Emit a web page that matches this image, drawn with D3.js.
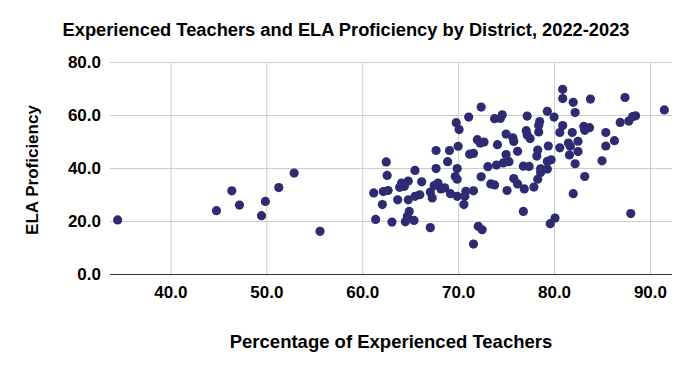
<!DOCTYPE html>
<html>
<head>
<meta charset="utf-8">
<script src="https://cdn.jsdelivr.net/npm/d3@7"></script>
<style>
  html, body { margin: 0; padding: 0; background: #fff; }
  svg { display: block; font-family: "Liberation Sans", Arial, sans-serif; }
</style>
</head>
<body>
<svg id="chart" width="690" height="371"></svg>
<script>
// Percentage of experienced teachers (x) per district
const experiencedPct = [
  34.5, 44.8, 46.4, 47.2, 49.5, 49.9, 51.3, 52.9, 55.6,
  61.2, 61.4, 62.1, 62.2, 62.5, 62.6, 62.7, 63.1, 63.7, 63.9, 64.4, 64.1, 64.8,
  64.5, 64.7, 64.9, 64.8, 65.4, 65.5, 66.0, 65.5, 66.2, 67.1, 67.1, 67.3, 67.5,
  67.9, 68.2, 68.6, 67.7, 67.7, 68.9, 69.1, 69.2, 69.9, 69.7, 69.9, 69.9, 70.0,
  69.8, 70.1, 70.6, 70.8, 70.7, 71.1, 71.2, 71.6, 71.6, 71.6, 72.1, 72.5, 72.0,
  72.3, 72.7, 72.4, 72.4, 73.1, 73.4, 73.8, 73.8, 74.4, 74.6, 74.1, 74.0, 74.7,
  75.3, 75.0, 75.7, 75.8, 75.0, 75.1, 75.8, 76.2, 76.2, 76.8, 76.9, 76.8, 77.4,
  77.2, 77.1, 77.2, 77.5, 77.9, 78.3, 78.6, 78.6, 78.3, 78.2, 78.5, 78.4, 78.4,
  79.3, 80.0, 79.4, 79.3, 79.7, 79.3, 79.6, 80.1, 80.9, 80.9, 82.0, 82.2, 83.8,
  87.4, 91.5, 88.5, 88.2, 87.8, 86.9, 80.6, 80.9, 81.9, 83.1, 83.7, 83.2, 85.4,
  86.3, 85.4, 81.5, 81.7, 80.6, 81.6, 82.5, 82.5, 82.2, 85.0, 83.2, 82.0, 88.0
];
// ELA proficiency (y) per district, same order
const elaProficiency = [
  20.4, 23.9, 31.4, 26.0, 22.0, 27.4, 32.6, 38.1, 16.1,
  30.6, 20.6, 26.2, 31.1, 42.3, 37.2, 31.5, 19.6, 28.0, 32.7, 33.1, 34.3, 35.1,
  19.7, 21.7, 23.6, 28.0, 20.2, 29.3, 29.9, 39.1, 34.8, 17.5, 30.9, 28.7, 33.4,
  34.3, 32.1, 32.5, 46.6, 39.8, 42.4, 46.6, 30.3, 29.3, 36.8, 35.8, 39.8, 48.2,
  57.1, 54.5, 26.2, 31.2, 29.3, 59.2, 45.2, 45.5, 31.4, 11.3, 18.0, 16.7, 50.7,
  49.4, 49.8, 63.0, 36.7, 40.5, 34.0, 33.6, 58.6, 58.7, 60.1, 48.8, 41.1, 41.9,
  42.4, 52.8, 51.4, 50.0, 45.1, 31.5, 36.0, 34.0, 46.3, 23.6, 32.1, 40.7, 40.6,
  59.6, 54.1, 52.5, 51.1, 32.8, 35.8, 38.3, 39.7, 46.8, 44.5, 57.5, 56.0, 53.6,
  61.4, 59.2, 48.3, 42.5, 43.1, 39.6, 19.0, 21.1, 69.7, 66.2, 64.8, 60.9, 66.0,
  66.6, 61.9, 59.7, 59.4, 57.7, 57.2, 53.4, 56.0, 53.4, 55.7, 55.2, 54.2, 53.4,
  50.3, 48.3, 49.4, 48.2, 47.6, 44.9, 50.1, 46.2, 41.6, 42.7, 36.8, 30.3, 22.8
];
const xTicks = [40, 50, 60, 70, 80, 90];
const yTicks = [0, 20, 40, 60, 80];

const titleText = "Experienced Teachers and ELA Proficiency by District, 2022-2023";
const xTitle = "Percentage of Experienced Teachers";
const yTitle = "ELA Proficiency";

const points = experiencedPct.map((x, i) => ({ x, y: elaProficiency[i] }));

const svg = d3.select("#chart");
const plot = { left: 110, right: 672, top: 62, bottom: 274 };

const x = d3.scaleLinear().domain([33.7, 92.3]).range([plot.left, plot.right]);
const y = d3.scaleLinear().domain([0, 80]).range([plot.bottom, plot.top]);

// vertical gridlines + x tick labels
const gx = svg.append("g")
  .attr("transform", `translate(0,${plot.bottom})`)
  .call(d3.axisBottom(x).tickValues(xTicks).tickSize(-(plot.bottom - plot.top)).tickFormat(d3.format(".1f")).tickPadding(12));
gx.select(".domain").remove();
gx.selectAll(".tick line").attr("stroke", "#cccccc").attr("stroke-width", 1);
gx.selectAll(".tick text")
  .attr("font-size", 17).attr("font-weight", "bold").attr("fill", "#000")
  .attr("font-family", "Liberation Sans, Arial, sans-serif");

// horizontal gridlines + y tick labels
const gy = svg.append("g")
  .attr("transform", `translate(${plot.left},0)`)
  .call(d3.axisLeft(y).tickValues(yTicks).tickSize(-(plot.right - plot.left)).tickFormat(d3.format(".1f")).tickPadding(9));
gy.select(".domain").remove();
gy.selectAll(".tick line").attr("stroke", d => d === 0 ? "#333333" : "#cccccc").attr("stroke-width", 1);
gy.selectAll(".tick text")
  .attr("font-size", 17).attr("font-weight", "bold").attr("fill", "#000")
  .attr("font-family", "Liberation Sans, Arial, sans-serif");

// points
svg.append("g").selectAll("circle")
  .data(points)
  .join("circle")
  .attr("cx", d => x(d.x))
  .attr("cy", d => y(d.y))
  .attr("r", 4.6)
  .attr("fill", "#2e2b72");

// titles
svg.append("text")
  .attr("x", 346).attr("y", 36)
  .attr("text-anchor", "middle")
  .attr("font-size", 18.3).attr("font-weight", "bold")
  .text(titleText);

svg.append("text")
  .attr("x", (plot.left + plot.right) / 2).attr("y", 348)
  .attr("text-anchor", "middle")
  .attr("font-size", 18.5).attr("font-weight", "bold")
  .text(xTitle);

svg.append("text")
  .attr("transform", `translate(38,${(plot.top + plot.bottom) / 2 + 2}) rotate(-90)`)
  .attr("text-anchor", "middle")
  .attr("font-size", 17).attr("font-weight", "bold")
  .text(yTitle);
</script>
</body>
</html>
